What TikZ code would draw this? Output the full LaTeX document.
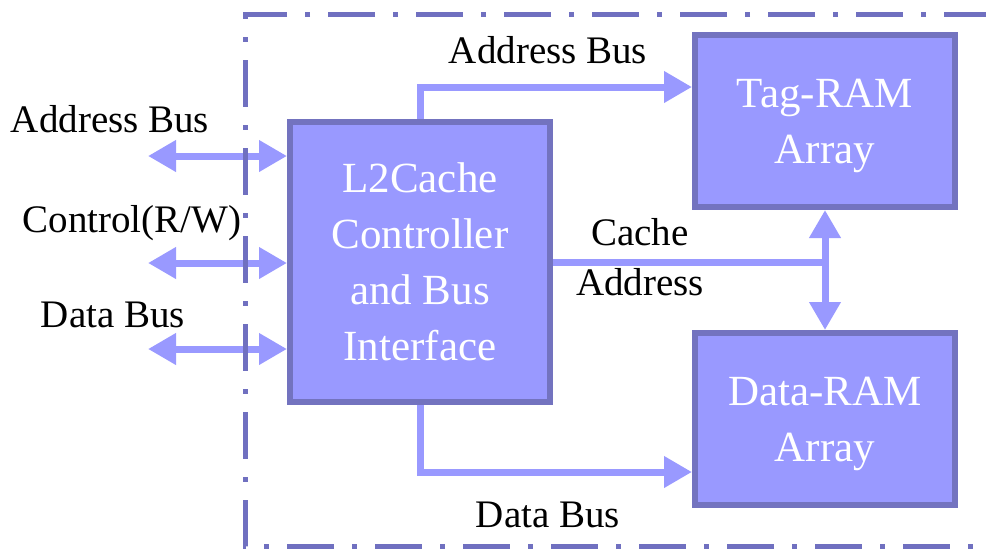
\documentclass[tikz,border=0pt]{standalone}
\usepackage{fontspec}
\setmainfont{Liberation Serif}
\usetikzlibrary{arrows.meta}
\definecolor{boxfill}{HTML}{9999FF}
\definecolor{boxline}{HTML}{7373BF}
\definecolor{arrcol}{HTML}{9999FF}
\definecolor{framecol}{HTML}{7070C0}
\begin{document}
\begin{tikzpicture}[x=1pt,y=-1pt,
  blk/.style={draw=boxline, fill=boxfill, line width=6pt, text=white, align=center,
    font=\fontsize{43}{56}\selectfont, text depth=0pt,
    minimum width=260pt, minimum height=172pt, inner sep=0pt},
  lbl/.style={font=\fontsize{39}{47}\selectfont, anchor=base, inner sep=0pt},
  bus/.style={draw=arrcol, line width=7pt},
  onearr/.style={bus, -{Triangle[length=28pt,width=30pt]}},
  twoarr/.style={bus, {Triangle[length=28pt,width=30pt]}-{Triangle[length=28pt,width=30pt]}},
  frame/.style={draw=framecol, line width=5pt, dash pattern=on 47pt off 18pt on 5pt off 18pt}]
\useasboundingbox (0,0) rectangle (986,550);

% blocks
\node[blk, minimum height=280pt] (ctrl) at (420,262) {L2Cache\\Controller\\and Bus\\Interface};
\node[blk] (tag) at (825,121) {Tag-RAM\\Array};
\node[blk] (data) at (825,419) {Data-RAM\\Array};

% left bus arrows
\coordinate (l1) at (148,156);
\coordinate (l2) at (148,263);
\coordinate (l3) at (148,349);
\draw[twoarr] (l1) -- (l1 -| ctrl.west);
\draw[twoarr] (l2) -- (l2 -| ctrl.west);
\draw[twoarr] (l3) -- (l3 -| ctrl.west);

% internal buses
\draw[onearr] (ctrl.north) |- ([yshift=34pt]tag.west);
\draw[onearr] (ctrl.south) |- ([yshift=-53pt]data.west);
\draw[bus] (ctrl.east) -- (ctrl.east -| tag.south);
\draw[twoarr] (tag.south) -- (data.north);

% labels
\node[lbl] (lab1) at (110,132) {Address Bus};
\node[lbl] (lab2) at (132,232) {Control(R/W)};
\node[lbl] (lab3) at (113,327) {Data Bus};
\node[lbl] (lab4) at (548,63) {Address Bus};
\node[lbl] (lab5) at (640,245) {Cache};
\node[lbl] (lab6) at (640,295) {Address};
\node[lbl] (lab7) at (548,527) {Data Bus};

% dash-dot frame
\draw[frame, dash phase=79pt] (1000,14) -- (245,14) -- (245,546) -- (1000,546);
\end{tikzpicture}
\end{document}
